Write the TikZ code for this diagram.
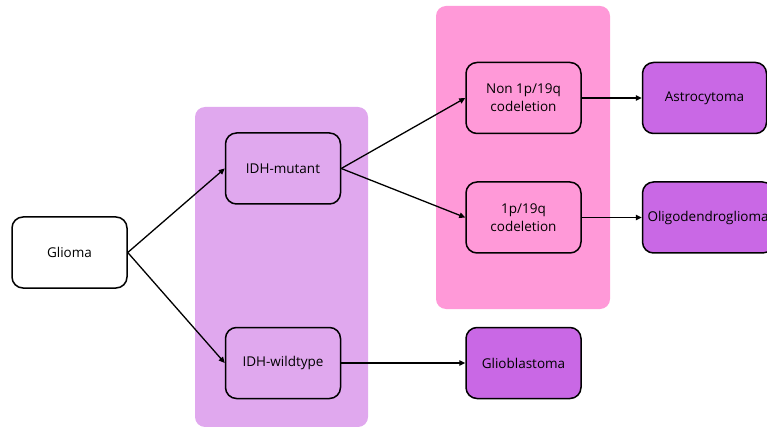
\documentclass[tikz,border=0pt]{standalone}
\usepackage{fontspec}
\setmainfont{Open Sans}
\usetikzlibrary{arrows.meta,positioning}
\definecolor{lilac}{HTML}{E0A8EE}
\definecolor{rosa}{HTML}{FF99D8}
\definecolor{endpurple}{HTML}{C968E5}

\begin{document}
\begin{tikzpicture}[x=1pt,y=-1pt, node distance=47pt and 60pt, every node/.style={draw,line width=1.5pt,rounded corners=11pt,align=center,font=\fontsize{13.5}{18}\selectfont,minimum width=115pt,minimum height=71pt,inner sep=5pt}, arr/.style={-{Triangle[length=6pt,width=5.5pt]},line width=1.3pt}]
\useasboundingbox (0,0) rectangle (767,427);
\fill[lilac,rounded corners=10pt] (195,107) rectangle (368,427);
\fill[rosa,rounded corners=10pt] (436,6) rectangle (610,309);
\node[fill=white] (g) at (69.5,252.5) {Glioma};
\node (mut) at (283,168.5) {IDH-mutant};
\node[below=122pt of mut] (wt) {IDH-wildtype};
\node (non) at (523.5,98) {Non 1p/19q\\codeletion};
\node[below=47pt of non] (cod) {1p/19q\\codeletion};
\node[fill=endpurple,minimum width=124pt,right=of non] (ast) {Astrocytoma};
\node[fill=endpurple,right=of cod] (oli) {Oligodendroglioma};
\node[fill=endpurple,right=124pt of wt] (gbm) {Glioblastoma};
\draw[arr] (g.east)--(mut.west); \draw[arr] (g.east)--(wt.west);
\draw[arr] (mut.east)--(non.west); \draw[arr] (mut.east)--(cod.west);
\draw[arr] (non)--(ast); \draw[arr] (cod)--(oli); \draw[arr] (wt)--(gbm);
\end{tikzpicture}
\end{document}
